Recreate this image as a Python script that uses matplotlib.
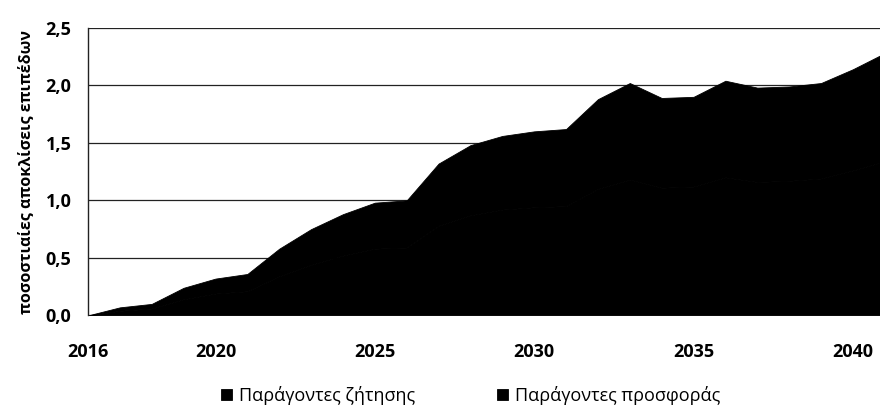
import numpy as np
import matplotlib.pyplot as plt

# years and the two stacked components (both printed black in the scan)
years = list(range(2016, 2042))
demand = [0, 0.04, 0.06, 0.14, 0.19, 0.21, 0.34, 0.44, 0.52, 0.58, 0.59, 0.78, 0.87,
          0.92, 0.94, 0.95, 1.10, 1.18, 1.11, 1.12, 1.20, 1.16, 1.17, 1.19, 1.26, 1.34]
supply = [0, 0.03, 0.04, 0.10, 0.13, 0.15, 0.24, 0.31, 0.36, 0.40, 0.41, 0.54, 0.61,
          0.64, 0.66, 0.67, 0.78, 0.84, 0.78, 0.78, 0.84, 0.82, 0.82, 0.83, 0.88, 0.94]
labels = ["Παράγοντες ζήτησης", "Παράγοντες προσφοράς"]
xticks = [2016, 2020, 2025, 2030, 2035, 2040]
yticks = [0, 0.5, 1.0, 1.5, 2.0, 2.5]

plt.rcParams['font.family'] = ['Open Sans', 'DejaVu Sans']

fig = plt.figure(figsize=(8.8, 4.15), dpi=100)
ax = fig.add_axes([0.1, 0.24, 0.9, 0.693])

ax.stackplot(years, demand, supply, colors=['black', 'black'], labels=labels,
             edgecolor='black', linewidth=0.6)

ax.set_xlim(2016, 2040.85)
ax.set_ylim(0, 2.5)
ax.set_yticks(yticks)
ax.set_yticklabels([f"{v:.1f}".replace('.', ',') for v in yticks], fontsize=13, fontweight='bold')
ax.set_xticks(xticks)
ax.set_xticklabels([str(x) for x in xticks], fontsize=13, fontweight='bold')
ax.tick_params(axis='both', length=0)
ax.tick_params(axis='y', pad=12)
ax.tick_params(axis='x', pad=20)

ax.grid(axis='y', color='#222222', linewidth=0.9)
ax.set_axisbelow(True)
for s in ['top', 'right', 'bottom']:
    ax.spines[s].set_visible(False)
ax.spines['left'].set_color('#222222')
ax.spines['left'].set_linewidth(1.0)

ax.set_ylabel("ποσοστιαίες αποκλίσεις επιπέδων", fontsize=11.5, fontweight='bold', labelpad=8)

fig.legend(loc='lower center', bbox_to_anchor=(0.535, -0.015), ncol=2, frameon=False,
           fontsize=13, handlelength=0.6, handleheight=0.6, handletextpad=0.4,
           columnspacing=4.5)

fig.savefig('out.png', dpi=100)
